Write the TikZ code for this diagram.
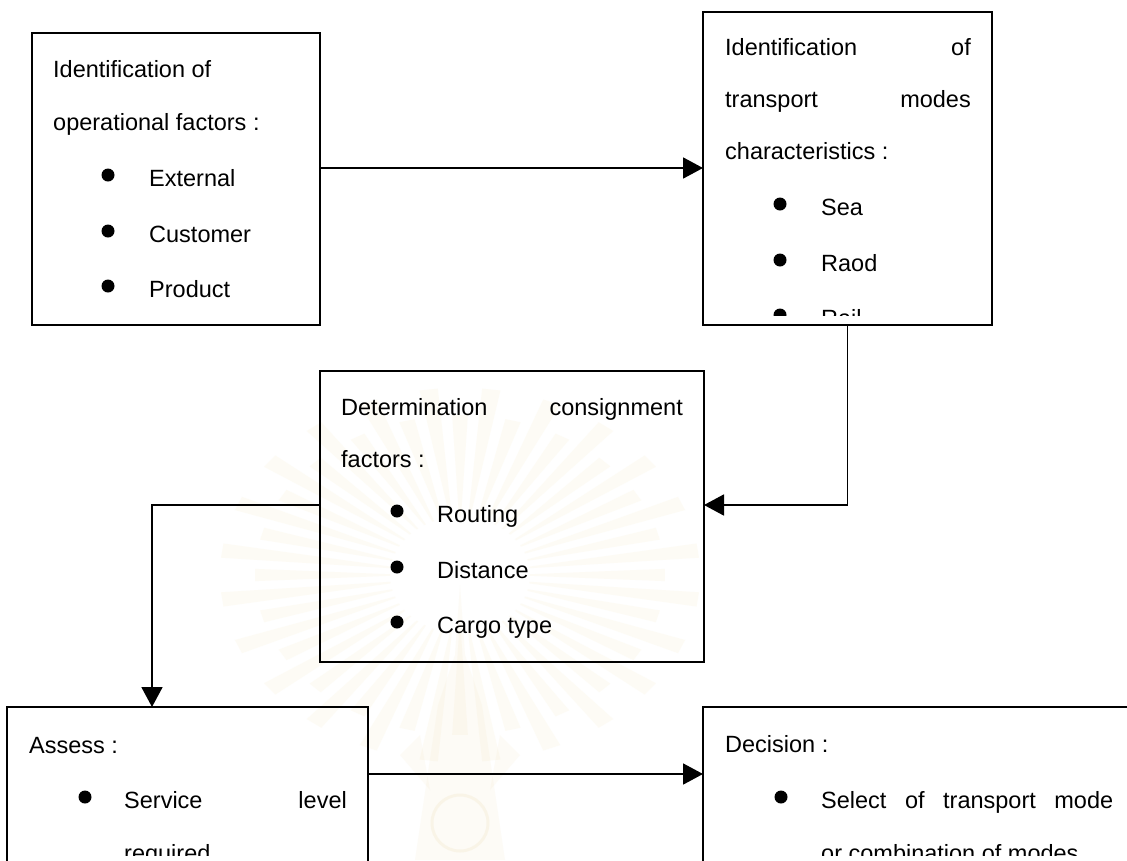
\documentclass[tikz,border=0pt]{standalone}
\usepackage{fontspec}
\setmainfont{Liberation Sans}
\usetikzlibrary{arrows.meta,calc}
\definecolor{raycol}{RGB}{247,232,185}
\definecolor{embcol}{RGB}{240,226,190}

\begin{document}
\begin{tikzpicture}[x=1pt,y=-1pt,
  box/.style={draw=black,line width=1.8pt,inner sep=0pt,outer sep=0pt},
  conn/.style={line width=1.8pt,-{Triangle[length=20pt,width=21pt]}},
  txt/.style={inner sep=0pt,anchor=base west,font=\fontsize{23.5}{28}\selectfont},
  txtr/.style={txt,anchor=base east},
  ray/.style={fill=raycol,opacity=0.14},
  emb/.style={fill=embcol,opacity=0.13}]

\clip (0,0) rectangle (1127,860);
\fill[white] (0,0) rectangle (1127,860);

% faint seal behind the lower part of the chart
\begin{scope}[shift={(460,575)}]
  \foreach \a [count=\i] in {0,7.5,...,352.5} {
    \pgfmathsetmacro\rr{mod(\i,2)==0 ? 240 : 205}
    \fill[ray] (\a-0.8:70 and 58) -- (\a-2.2:{\rr} and {\rr*0.78})
      -- (\a+2.2:{\rr} and {\rr*0.78}) -- (\a+0.8:70 and 58) -- cycle;
  }
  \fill[white] (0,0) ellipse (62 and 52);
  \fill[emb] (0,10) -- (5,80) -- (22,130) -- (45,285) -- (-45,285)
    -- (-22,130) -- (-5,80) -- cycle;
  \fill[emb] (-60,180) -- (-40,160) -- (-30,215) -- cycle;
  \fill[emb] (60,180) -- (40,160) -- (30,215) -- cycle;
  \draw[draw=embcol,opacity=0.25,line width=3pt] (0,248) circle (28);
\end{scope}

% boxes
\node[box,minimum width=288pt,minimum height=292pt] (b1) at (176,179) {};
\node[box,minimum width=289pt,minimum height=313pt] (b2) at (847.5,168.5) {};
\node[box,minimum width=384pt,minimum height=291pt] (b3) at (512,516.5) {};
\node[box,minimum width=361pt,minimum height=193pt] (b4) at (187.5,803.5) {};
\node[box,minimum width=447pt,minimum height=193pt] (b5) at (926.5,803.5) {};

% box 1 text
\node[txt] (t1a) at (53,77) {Identification of};
\node[txt] (t1b) at (53,130) {operational factors :};
\foreach \y in {175,231,286} \fill (108,\y) circle (6.5);
\node[txt] (t1c) at (149,186) {External};
\node[txt] (t1d) at (149,242) {Customer};
\node[txt] (t1e) at (149,297) {Product};

% box 2 text (last line cut off by the frame)
\begin{scope}
  \clip (703,12) rectangle (992,315);
  \node[txt] (t2a) at (725,55) {Identification};
  \node[txtr] (t2b) at (971,55) {of};
  \node[txt] (t2c) at (725,107) {transport};
  \node[txtr] (t2d) at (971,107) {modes};
  \node[txt] (t2e) at (725,159) {characteristics :};
  \foreach \y in {204,260,315} \fill (780,\y) circle (6.5);
  \node[txt] (t2f) at (821,215) {Sea};
  \node[txt] (t2g) at (821,271) {Raod};
  \node[txt] (t2h) at (821,326) {Rail};
\end{scope}

% box 3 text
\node[txt] (t3a) at (341,415) {Determination};
\node[txtr] (t3b) at (683,415) {consignment};
\node[txt] (t3c) at (341,467) {factors :};
\foreach \y in {511,567,622} \fill (397,\y) circle (6.5);
\node[txt] (t3d) at (437,522) {Routing};
\node[txt] (t3e) at (437,578) {Distance};
\node[txt] (t3f) at (437,633) {Cargo type};

% box 4 and box 5 text (cut off at the bottom)
\begin{scope}
  \clip (0,700) rectangle (1127,855);
  \node[txt] (t4a) at (29,753) {Assess :};
  \fill (85,797) circle (6.5);
  \node[txt] (t4b) at (124,808) {Service};
  \node[txtr] (t4c) at (347,808) {level};
  \node[txt] (t4d) at (124,861) {required};
  \node[txt] (t5a) at (725,752) {Decision :};
  \fill (781,797) circle (6.5);
  \node[txt] (t5b) at (821,808) {\makebox[292pt][s]{Select of transport mode}};
  \node[txt] (t5c) at (821,861) {or combination of modes};
\end{scope}

% connectors
\coordinate (r1) at (0,168);
\coordinate (r2) at (0,505);
\coordinate (k3) at (152,505);
\coordinate (r4) at (0,774);
\draw[conn] (b1.east |- r1) -- (b2.west |- r1);
\draw[conn] (b2.south) -- (b2.south |- r2) -- (b3.east |- r2);
\draw[conn] (b3.west |- k3) -- (k3) -- (k3 |- b4.north);
\draw[conn] (b4.east |- r4) -- (b5.west |- r4);
\end{tikzpicture}
\end{document}
